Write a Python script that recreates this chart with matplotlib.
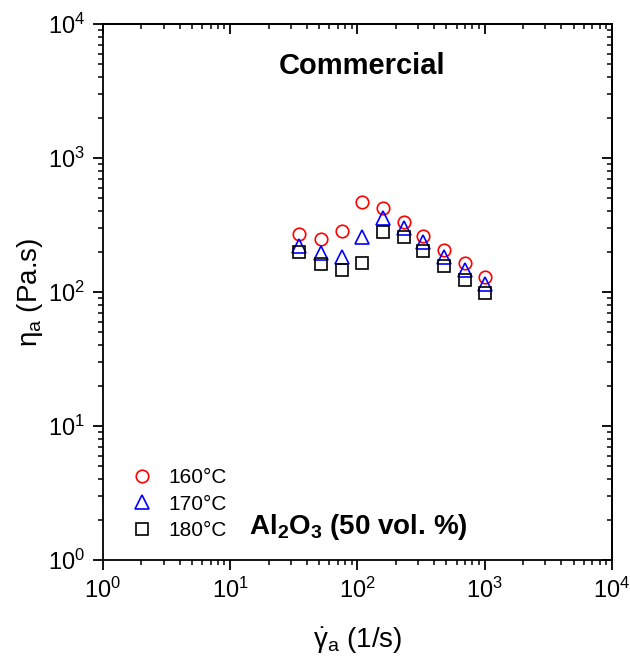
import numpy as np
import matplotlib
matplotlib.use('Agg')
import matplotlib.pyplot as plt
from matplotlib.ticker import LogLocator, NullFormatter

plt.rcParams['font.family'] = ['Liberation Sans', 'DejaVu Sans']
plt.rcParams['mathtext.fontset'] = 'custom'
plt.rcParams['mathtext.rm'] = 'Liberation Sans'
plt.rcParams['mathtext.it'] = 'Liberation Sans'
plt.rcParams['mathtext.bf'] = 'Liberation Sans:bold'
plt.rcParams['mathtext.default'] = 'regular'

# 剪切速率 (1/s)
shear_rate = [35, 52, 75, 108, 158, 230, 330, 480, 700, 1000]
# 表观粘度 (Pa.s)
eta_160 = [270, 247, 287, 467, 421, 331, 263, 207, 164, 129]
eta_170 = [222, 196, 183, 257, 355, 301, 236, 182, 145, 115]
eta_180 = [200, 162, 146, 164, 282, 259, 203, 156, 123, 98]
labels = ['160°C', '170°C', '180°C']

fig = plt.figure(figsize=(6.3, 6.61), dpi=100)
ax = fig.add_axes([0.1635, 0.1528, 0.8079, 0.8109])

ax.plot(shear_rate, eta_160, 'o', ms=9, mfc='none', mec='red', mew=1.2, label=labels[0])
ax.plot(shear_rate, eta_170, '^', ms=10, mfc='none', mec='blue', mew=1.2, label=labels[1])
ax.plot(shear_rate, eta_180, 's', ms=9, mfc='none', mec='black', mew=1.2, label=labels[2])

ax.set_xscale('log')
ax.set_yscale('log')
ax.set_xlim(1, 1e4)
ax.set_ylim(1, 1e4)

for sp in ax.spines.values():
    sp.set_linewidth(1.3)

ax.xaxis.set_major_locator(LogLocator(base=10, numticks=10))
ax.yaxis.set_major_locator(LogLocator(base=10, numticks=10))
ax.xaxis.set_minor_locator(LogLocator(base=10, subs=np.arange(2, 10), numticks=10))
ax.yaxis.set_minor_locator(LogLocator(base=10, subs=np.arange(2, 10), numticks=10))
ax.xaxis.set_minor_formatter(NullFormatter())
ax.yaxis.set_minor_formatter(NullFormatter())
ax.tick_params(which='major', direction='out', length=7, width=1.3, labelsize=17, pad=6)
ax.tick_params(which='minor', direction='out', length=3.5, width=1.1)

# 右侧和顶部刻度朝内
top = ax.secondary_xaxis('top')
right = ax.secondary_yaxis('right')
for sec in (top, right):
    sec.tick_params(which='major', direction='in', length=7, width=1.3,
                    labeltop=False, labelright=False)
    sec.tick_params(which='minor', direction='in', length=3.5, width=1.1)
    for sp in sec.spines.values():
        sp.set_linewidth(1.3)
top.xaxis.set_major_locator(LogLocator(base=10, numticks=10))
top.xaxis.set_minor_locator(LogLocator(base=10, subs=np.arange(2, 10), numticks=10))
right.yaxis.set_major_locator(LogLocator(base=10, numticks=10))
right.yaxis.set_minor_locator(LogLocator(base=10, subs=np.arange(2, 10), numticks=10))
top.xaxis.set_major_formatter(NullFormatter())
top.xaxis.set_minor_formatter(NullFormatter())
right.yaxis.set_major_formatter(NullFormatter())
right.yaxis.set_minor_formatter(NullFormatter())

ax.set_xlabel(r'$\dot{\gamma}_a$ (1/s)', fontsize=20, labelpad=16)
ax.set_ylabel(r'$\eta_a$ (Pa.s)', fontsize=20, labelpad=2)

ax.text(0.509, 0.922, 'Commercial', transform=ax.transAxes, fontsize=21,
        fontweight='bold', ha='center', va='center')
ax.text(0.501, 0.062, r'Al$_\mathbf{2}$O$_\mathbf{3}$ (50 vol. %)', transform=ax.transAxes,
        fontsize=20, fontweight='bold', ha='center', va='center')

ax.legend(loc='lower left', bbox_to_anchor=(0.035, 0.022), frameon=False,
          fontsize=15, handletextpad=0.7, labelspacing=0.35, borderaxespad=0,
          handlelength=1.2)

fig.savefig('out.png', dpi=100)
